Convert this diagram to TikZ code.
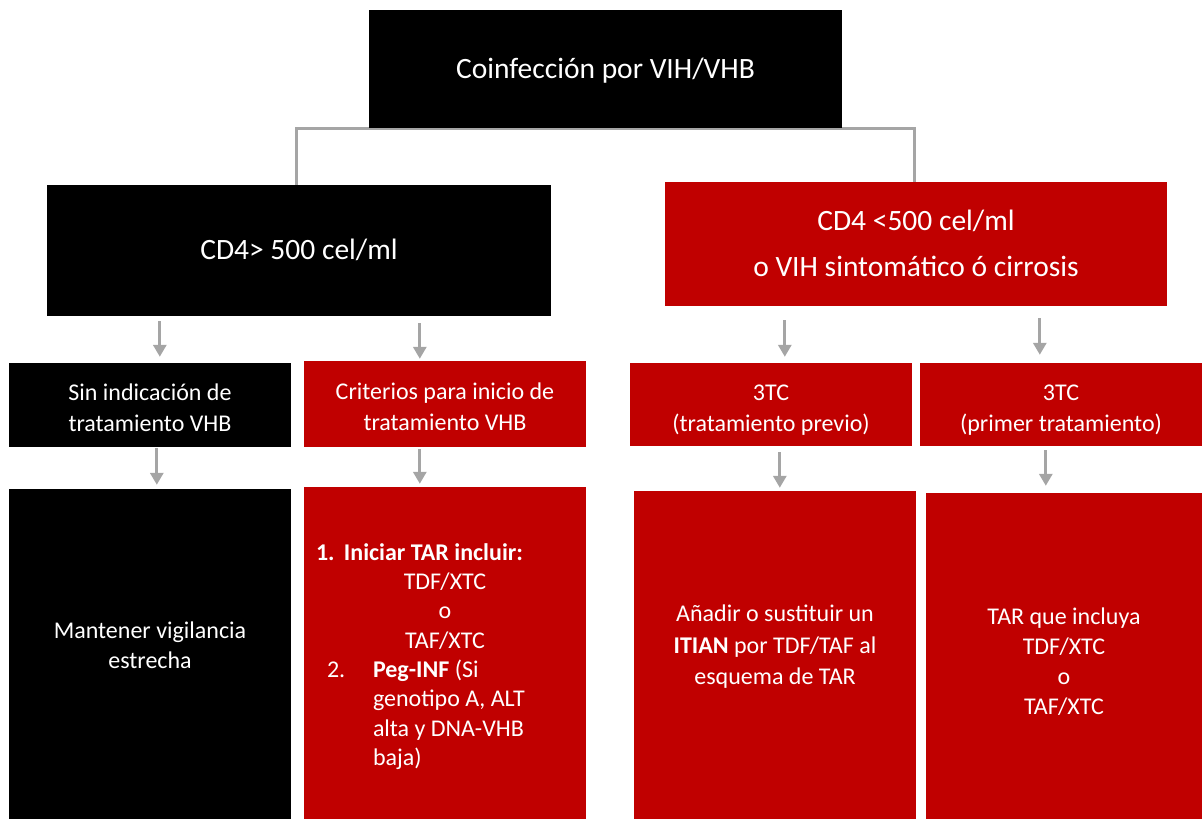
\documentclass[tikz,border=0pt]{standalone}
\usepackage{fontspec}
\setmainfont{Carlito}
\usetikzlibrary{arrows.meta,backgrounds}
\definecolor{boxred}{HTML}{C00000}
\definecolor{linegray}{HTML}{A5A5A5}
\newcommand\txtblock[2][0pt]{\raisebox{#1}[\height][\depth]{\begin{tabular}{@{}c@{}}#2\end{tabular}}}
\begin{document}
\begin{tikzpicture}[x=1pt,y=-1pt,
  bbox/.style={fill=black, draw=none, text=white, inner sep=0pt},
  rbox/.style={fill=boxred, draw=none, text=white, inner sep=0pt},
  big/.style={font=\fontsize{29.5}{46}\selectfont},
  mid/.style={font=\fontsize{24}{31}\selectfont},
  body/.style={font=\fontsize{24}{30}\selectfont},
  arr/.style={draw=linegray, line width=3pt, -{Triangle[width=13pt,length=12pt]}},
  conn/.style={draw=linegray, line width=3pt}]
\useasboundingbox (0,0) rectangle (1202,819);
% top level
\node[bbox, big, minimum width=473, minimum height=118] (top) at (605.5,69) {\txtblock{Coinfección por VIH/VHB}};
\node[bbox, big, minimum width=504, minimum height=131] (cd4l) at (299,250.5) {\txtblock{CD4> 500 cel/ml}};
\node[rbox, big, minimum width=502, minimum height=124] (cd4r) at (916,244) {\txtblock{CD4 <500 cel/ml\\o VIH sintomático ó cirrosis}};
% second row
\node[bbox, mid, minimum width=282, minimum height=84] (sin) at (150,405) {\txtblock[-5pt]{Sin indicación de\\tratamiento VHB}};
\node[rbox, mid, minimum width=282, minimum height=86] (crit) at (445,404) {\txtblock[-5pt]{Criterios para inicio de\\tratamiento VHB}};
\node[rbox, mid, minimum width=282, minimum height=83] (prev) at (771,404.5) {\txtblock[-5pt]{3TC\\(tratamiento previo)}};
\node[rbox, mid, minimum width=282, minimum height=83] (prim) at (1061,404.5) {\txtblock[-5pt]{3TC\\(primer tratamiento)}};
% third row
\node[bbox, body, minimum width=282, minimum height=330] (mant) at (150,654) {\txtblock[7pt]{Mantener vigilancia\\estrecha}};
\node[rbox, font=\fontsize{24}{29.3}\selectfont, minimum width=282, minimum height=332] (critd) at (445,653) {\raisebox{-4pt}[\height][\depth]{\begin{tabular}{@{}l@{}}
\makebox[258pt][l]{\textbf{\makebox[28pt][l]{1.}Iniciar TAR incluir:}}\\
\makebox[258pt]{TDF/XTC}\\
\makebox[258pt]{o}\\
\makebox[258pt]{TAF/XTC}\\
\makebox[57pt][l]{\hspace*{11pt}2.}\textbf{Peg-INF} (Si\\
\hspace*{57pt}genotipo A, ALT\\
\hspace*{57pt}alta y DNA-VHB\\
\hspace*{57pt}baja)
\end{tabular}}};
\node[rbox, font=\fontsize{24}{31.5}\selectfont, minimum width=282, minimum height=328] (anad) at (775,655) {\txtblock[8pt]{Añadir o sustituir un\\\textbf{ITIAN} por TDF/TAF al\\esquema de TAR}};
\node[rbox, body, minimum width=276, minimum height=326] (tar) at (1064,656) {\txtblock[-7pt]{TAR que incluya\\TDF/XTC\\o\\TAF/XTC}};
% connectors
\begin{scope}[on background layer]
\draw[conn] ([xshift=250]cd4l.north west) |- (top.south) -| ([xshift=250,yshift=-4]cd4r.north west);
\end{scope}
\draw[arr, shorten <=5pt, shorten >=6pt] ([xshift=113]cd4l.south west) -- ([xshift=151]sin.north west);
\draw[arr, shorten <=7pt, shorten >=2pt] ([xshift=373]cd4l.south west) -- ([xshift=116]crit.north west);
\draw[arr, shorten <=14pt, shorten >=6pt] ([xshift=120]cd4r.south west) -- ([xshift=155]prev.north west);
\draw[arr, shorten <=12pt, shorten >=8pt] ([xshift=375]cd4r.south west) -- ([xshift=120]prim.north west);
\draw[arr, shorten <=1pt, shorten >=4pt] ([xshift=148]sin.south west) -- ([xshift=148]mant.north west);
\draw[arr, shorten <=2pt, shorten >=3pt] ([xshift=116]crit.south west) -- ([xshift=116]critd.north west);
\draw[arr, shorten <=6pt, shorten >=3pt] ([xshift=150]prev.south west) -- ([xshift=146]anad.north west);
\draw[arr, shorten <=4pt, shorten >=7pt] ([xshift=126]prim.south west) -- ([xshift=120]tar.north west);
\end{tikzpicture}
\end{document}
